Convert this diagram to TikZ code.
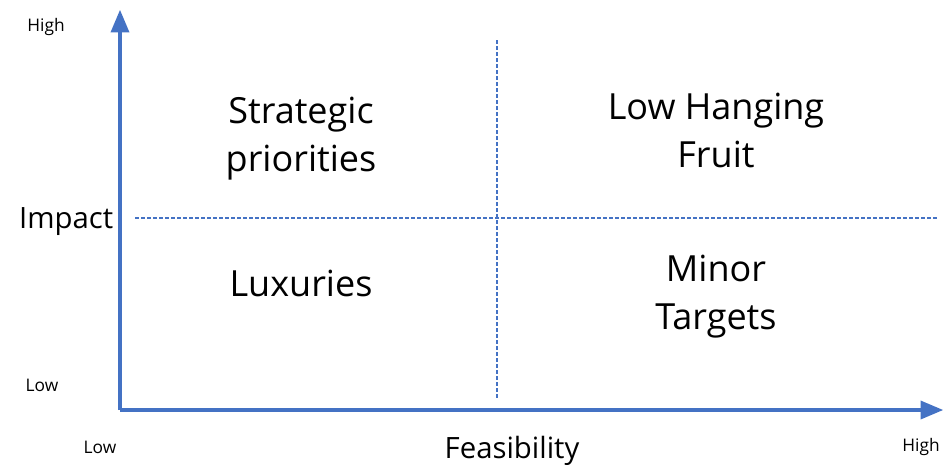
\documentclass[tikz,border=0pt]{standalone}
\usepackage{fontspec}
\setmainfont{Open Sans}
\usepackage{tikz}
\usetikzlibrary{arrows,positioning}
\definecolor{axisblue}{HTML}{4472C4}

\begin{document}
\begin{tikzpicture}[x=0.75pt,y=-0.75pt,
		axis/.style={draw=axisblue, line width=3pt, -triangle 45},
		divider/.style={draw=axisblue, line width=0.8pt, dash pattern=on 3pt off 1.5pt},
		quadrant/.style={align=center, font=\fontsize{27}{36}\selectfont},
		axislabel/.style={font=\fontsize{22}{26}\selectfont},
		endlabel/.style={font=\fontsize{13}{15}\selectfont}]
		\useasboundingbox (0,0) rectangle (943,472);

		% axis ends
		\coordinate (origin) at (120,410);
		\coordinate (ytop) at (120,10);
		\coordinate (xend) at (943,410);

		% draw axes
		\draw[axis] (origin) -- (ytop);
		\draw[axis] (origin) -- (xend);

		% draw dividing lines
		\coordinate (hleft) at (135,218);
		\coordinate (hright) at (938,218);
		\coordinate (vtop) at (497,40);
		\coordinate (vbottom) at (497,398);
		\draw[divider] (hleft) -- (hright);
		\draw[divider] (vtop) -- (vbottom);

		% draw axis labels
		\node[axislabel, anchor=east] (impact) at (118,222) {Impact};
		\node[axislabel] (feasibility) at (512,451) {Feasibility};
		\node[endlabel] (yhigh) at (46,27) {High};
		\node[endlabel] (ylow) at (42,385) {Low};
		\node[endlabel] (xlow) at (100,447) {Low};
		\node[endlabel] (xhigh) at (921,447) {High};

		% draw quadrant names
		\node[quadrant] (strategic) at (301,139) {Strategic\\priorities};
		\node[quadrant] (lowhanging) at (716,130) {Low Hanging\\Fruit};
		\node[quadrant] (luxuries) at (301,283) {Luxuries};
		\node[quadrant] (minor) at (716,297) {Minor\\Targets};
	\end{tikzpicture}
\end{document}
